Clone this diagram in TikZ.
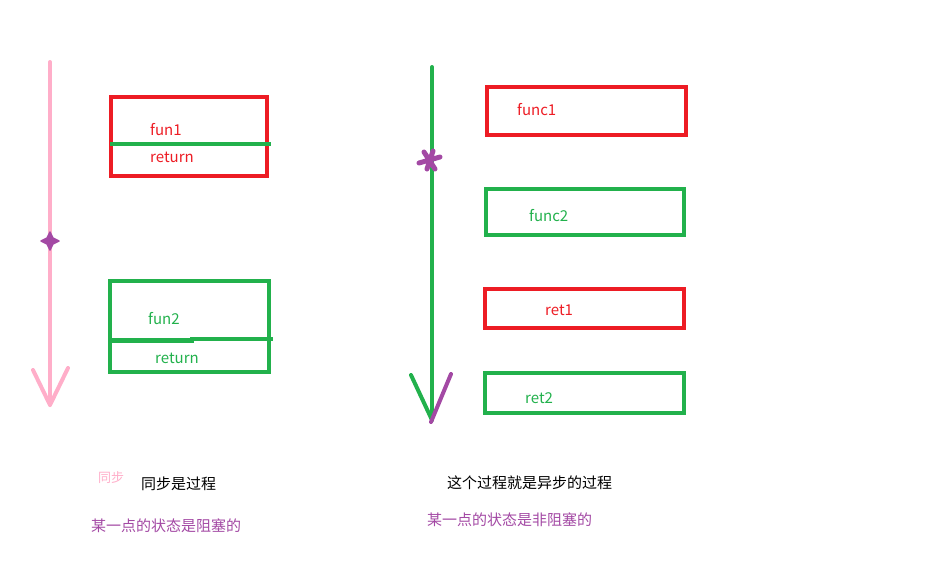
\documentclass[tikz,border=0pt]{standalone}
\usepackage{fontspec}
\setmainfont{Noto Sans CJK SC}
\definecolor{myred}{HTML}{ED1C24}
\definecolor{mygreen}{HTML}{22B14C}
\definecolor{mypink}{HTML}{FFAEC9}
\definecolor{mypurple}{HTML}{A349A4}
\begin{document}
\begin{tikzpicture}[
        x=1pt,y=-1pt,
        box/.style={draw,line width=4.5pt,inner sep=0pt},
        redbox/.style={box,draw=myred},
        greenbox/.style={box,draw=mygreen},
        lbl/.style={anchor=west,inner sep=0pt,font=\fontsize{15}{18}\selectfont},
        rlbl/.style={lbl,text=myred},
        glbl/.style={lbl,text=mygreen},
        timeline/.style={line width=4pt,line cap=round,line join=round},
        divider/.style={draw=mygreen,line width=4.5pt},
        ]
    \useasboundingbox (0,0) rectangle (935,570);
    % synchronous side
    \node (fun1box) [redbox,minimum width=156,minimum height=79] at (189,136.5) {};
    \node (fun1) [rlbl] at (150,130) {fun1};
    \node (ret1a) [rlbl] at (150,157) {return};
    \coordinate (d1a) at (110,144);
    \coordinate (d1b) at (271,144);
    \draw [divider] (d1a) -- (d1b);

    \node (fun2box) [greenbox,minimum width=159,minimum height=91] at (189.5,326.5) {};
    \node (fun2) [glbl] at (148,319) {fun2};
    \node (ret2a) [glbl] at (155,358) {return};
    \coordinate (d2a) at (108,340.5);
    \coordinate (d2m) at (192,340.5);
    \coordinate (d2b) at (273,339);
    \draw [divider] (d2a) -- (d2m) -- (d2m |- d2b) -- (d2b);

    \coordinate (stop) at (50,62);
    \coordinate (sbot) at (50,405);
    \coordinate (sl) at (33,370);
    \coordinate (sr) at (68,368);
    \draw [timeline,draw=mypink] (stop) -- (sbot);
    \draw [timeline,draw=mypink] (sl) -- (sbot) -- (sr);
    \coordinate (sdot) at (50,241);
    \fill [mypurple,draw=mypurple,line width=1.5pt,line join=round]
        (50,232) -- (53,238) -- (59,241) -- (53,244) -- (50,250)
        -- (47,244) -- (41,241) -- (47,238) -- cycle;

    % asynchronous side
    \node (func1box) [redbox,minimum width=199,minimum height=48] at (586.5,111) {};
    \node (func1) [rlbl] at (517,110) {func1};
    \node (func2box) [greenbox,minimum width=198,minimum height=46] at (585,212) {};
    \node (func2) [glbl] at (529,216) {func2};
    \node (ret1box) [redbox,minimum width=199,minimum height=39] at (584.5,308.5) {};
    \node (ret1) [rlbl] at (545,310) {ret1};
    \node (ret2box) [greenbox,minimum width=199,minimum height=40] at (584.5,393) {};
    \node (ret2) [glbl] at (525,398) {ret2};

    \coordinate (atop) at (432,67);
    \coordinate (amid) at (432,243);
    \coordinate (abot) at (432,420);
    \coordinate (al) at (411,375);
    \coordinate (ar) at (451,374);
    \coordinate (abot2) at (431,422);
    \draw [timeline,draw=mygreen] (atop) -- (amid) -- (abot);
    \draw [timeline,draw=mygreen] (al) -- (abot);
    \draw [timeline,draw=mypurple] (ar) -- (abot2);
    \draw [timeline,draw=mypurple,line width=5pt] (419,163) -- (440,157)
        (424,152) -- (435,169) (427,169) -- (433,151);

    % captions
    \node (syncsmall) [lbl,text=mypink,font=\fontsize{13}{16}\selectfont] at (98,478) {同步};
    \node (synccap) [lbl] at (141,484) {同步是过程};
    \node (syncnote) [lbl,text=mypurple] at (91,526) {某一点的状态是阻塞的};
    \node (asynccap) [lbl] at (447,483) {这个过程就是异步的过程};
    \node (asyncnote) [lbl,text=mypurple] at (427,520) {某一点的状态是非阻塞的};
\end{tikzpicture}
\end{document}
